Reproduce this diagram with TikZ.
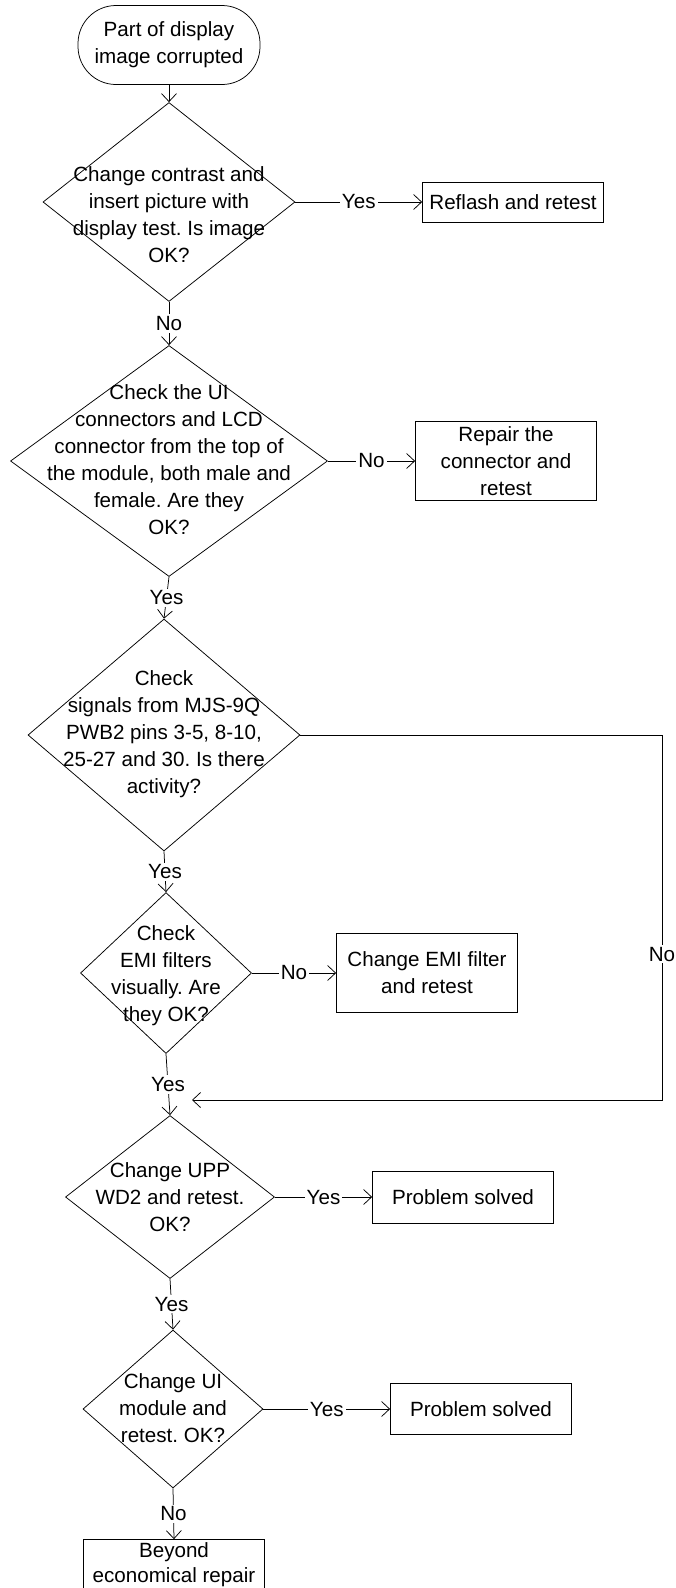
\documentclass[tikz,border=0pt]{standalone}
\usepackage{fontspec}
\setmainfont{Liberation Sans}
\usetikzlibrary{arrows.meta,shapes.geometric,positioning}
\frenchspacing
\tikzset{every picture/.style={line width=0.75pt}}
\tikzset{
  every node/.style={font=\fontsize{20.6}{27}\selectfont},
  flow/.style={-{Straight Barb[length=8pt,width=15pt]}},
  ask/.style={draw,shape=diamond,inner sep=0pt},
  txt/.style={align=center,inner sep=0pt},
  box/.style={draw,rectangle,minimum width=181pt,align=center,inner sep=0pt},
  lbl/.style={fill=white,inner sep=2pt},
}

\begin{document}
\begin{tikzpicture}[x=1pt,y=-1pt]
    \useasboundingbox (0,0) rectangle (675,1588);

    % 起点
    \node[draw,rounded corners=38pt,minimum width=182pt,minimum height=79pt,align=center,inner sep=0pt] (start) at (169,45) {Part of display\\image corrupted};

    % 判断框
    \node[ask,minimum width=252pt,minimum height=199pt] (q1) at (169,202) {};
    \node[txt] (t1) at (169,215) {Change contrast and\\insert picture with\\display test. Is image\\OK?};
    \node[ask,minimum width=317pt,minimum height=231pt] (q2) at (169,461) {};
    \node[txt] (t2) at (169,460) {Check the UI\\connectors and LCD\\connector from the top of\\the module, both male and\\female. Are they\\OK?};
    \node[ask,minimum width=272pt,minimum height=232pt] (q3) at (164,735) {};
    \node[txt] (t3) at (164,734) {Check\\signals from MJS-9Q\\PWB2 pins 3-5, 8-10,\\25-27 and 30. Is there\\activity?};
    \node[ask,minimum width=171pt,minimum height=161pt] (q4) at (166,973) {};
    \node[txt] (t4) at (166,976) {Check\\EMI filters\\visually. Are\\they OK?};
    \node[ask,minimum width=209pt,minimum height=163pt] (q5) at (170,1197) {};
    \node[txt] (t5) at (170,1197) {Change UPP\\WD2 and retest.\\OK?};
    \node[ask,minimum width=180pt,minimum height=158pt] (q6) at (173,1409) {};
    \node[txt] (t6) at (173,1408) {Change UI\\module and\\retest. OK?};

    % 处理框
    \node[box,minimum height=40pt] (b1) at (513,202) {Reflash and retest};
    \node[box,minimum height=79pt] (b2) at (506,461) {Repair the\\connector and\\retest};
    \node[box,minimum height=79pt] (b3) at (427,973) {Change EMI filter\\and retest};
    \node[box,minimum height=52pt] (b4) at (463,1197) {Problem solved};
    \node[box,minimum height=51pt] (b5) at (481,1409) {Problem solved};
    \node[box,minimum height=51pt,font=\fontsize{20.6}{25}\selectfont] (b6) at (174,1565) {Beyond\\economical repair};

    % 回路的拐点
    \coordinate (turn) at (662,1100);
    \coordinate (back) at (192,1100);

    % 连线
    \draw[flow] (start.south) -- (q1.north);
    \draw[flow] (q1.east) -- node[lbl] (y1) {Yes} (b1.west);
    \draw[flow] (q1.south) -- node[lbl] (n1) {No} (q2.north);
    \draw[flow] (q2.east) -- node[lbl] (n2) {No} (b2.west);
    \draw[flow] (q2.south) -- node[lbl] (y2) {Yes} (q3.north);
    \draw[flow] (q3.south) -- node[lbl] (y3) {Yes} (q4.north);
    \draw[flow] (q3.east) -| node[lbl,pos=0.8] (n3) {No} (turn) -- (back);
    \draw[flow] (q4.east) -- node[lbl] (n4) {No} (b3.west);
    \draw[flow] (q4.south) -- node[lbl] (y4) {Yes} (q5.north);
    \draw[flow] (q5.east) -- node[lbl] (y5) {Yes} (b4.west);
    \draw[flow] (q5.south) -- node[lbl] (y6) {Yes} (q6.north);
    \draw[flow] (q6.east) -- node[lbl] (y7) {Yes} (b5.west);
    \draw[flow] (q6.south) -- node[lbl] (n6) {No} (b6.north);
\end{tikzpicture}
\end{document}
